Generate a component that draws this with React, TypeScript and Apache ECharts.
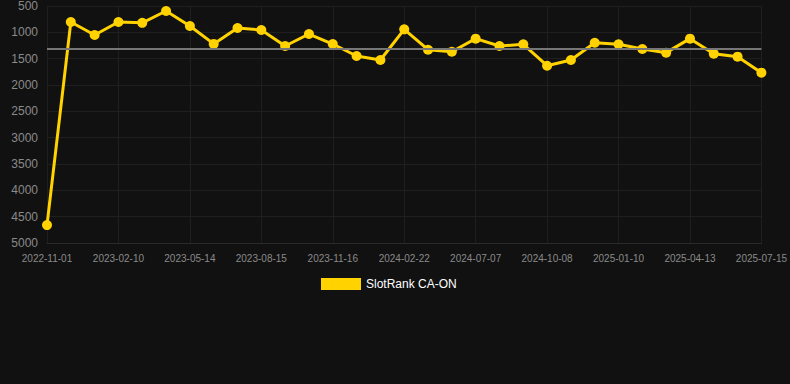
import React, { useEffect, useRef } from "react";
import * as echarts from "echarts";

const categories = [
  "2022-11-01", "2022-12-05", "2023-01-08", "2023-02-10", "2023-03-15", "2023-04-12",
  "2023-05-14", "2023-06-15", "2023-07-15", "2023-08-15", "2023-09-15", "2023-10-16",
  "2023-11-16", "2023-12-20", "2024-01-22", "2024-02-22", "2024-04-05", "2024-05-20",
  "2024-07-07", "2024-08-07", "2024-09-07", "2024-10-08", "2024-11-08", "2024-12-10",
  "2025-01-10", "2025-02-10", "2025-03-13", "2025-04-13", "2025-05-14", "2025-06-14",
  "2025-07-15",
];

const rankValues = [
  4660, 804, 1051, 804, 820, 595, 880, 1220, 918, 956, 1260, 1032, 1222, 1450, 1525,
  943, 1330, 1368, 1120, 1260, 1228, 1634, 1525, 1197, 1228, 1316, 1386, 1120, 1405,
  1462, 1766,
];

const seriesName = "SlotRank CA-ON";

export default function App() {
  const ref = useRef<HTMLDivElement>(null);

  useEffect(() => {
    document.body.style.margin = "0";
    document.body.style.background = "#111111";
    const chart = echarts.init(ref.current!, null, { renderer: "svg" });
    chart.setOption({
      animation: false,
      backgroundColor: "#111111",
      grid: { left: 47, right: 28, top: 6, bottom: 141 },
      legend: {
        top: 273,
        left: 316,
        itemWidth: 40,
        itemHeight: 12,
        icon: "rect",
        textStyle: { color: "#ffffff", fontSize: 12, fontFamily: "Arial, Liberation Sans, sans-serif" },
        data: [seriesName],
      },
      xAxis: {
        type: "category",
        data: categories,
        boundaryGap: false,
        axisLine: { lineStyle: { color: "#2a2a2a" } },
        axisTick: { show: false },
        axisLabel: {
          interval: 2,
          color: "#8a8a8a",
          fontSize: 10,
          fontFamily: "Arial, Liberation Sans, sans-serif",
          margin: 10,
        },
        splitLine: { show: true, interval: 2, lineStyle: { color: "#1f1f1f" } },
      },
      yAxis: {
        type: "value",
        inverse: true,
        min: 500,
        max: 5000,
        interval: 500,
        axisLine: { show: false },
        axisTick: { show: false },
        axisLabel: {
          color: "#8a8a8a",
          fontSize: 12,
          fontFamily: "Arial, Liberation Sans, sans-serif",
          margin: 9,
          formatter: (v: number) => String(v),
        },
        splitLine: { lineStyle: { color: "#1f1f1f" } },
      },
      series: [
        {
          name: seriesName,
          type: "line",
          data: rankValues,
          symbol: "circle",
          symbolSize: 10,
          itemStyle: { color: "#ffd200" },
          lineStyle: { color: "#ffd200", width: 3 },
          markLine: {
            silent: true,
            symbol: "none",
            label: { show: false },
            lineStyle: { color: "#777777", width: 2, type: "solid" },
            data: [{ type: "average" }],
          },
        },
      ],
    });
    return () => chart.dispose();
  }, []);

  return <div ref={ref} style={{ width: 790, height: 384 }} />;
}
